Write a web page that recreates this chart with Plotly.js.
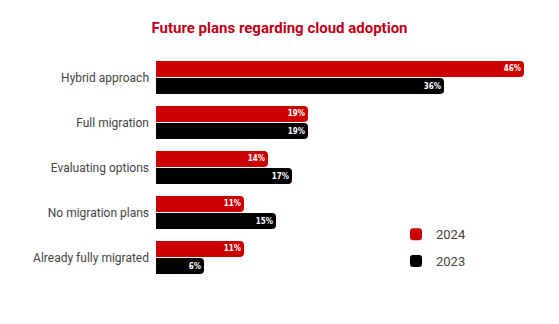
<!DOCTYPE html>
<html>
<head>
<meta charset="utf-8">
<script src="https://cdn.plot.ly/plotly-3.0.1.min.js"></script>
<style>html,body{margin:0;padding:0;background:#fff;}#chart{width:559px;height:324px;}</style>
</head>
<body>
<div id="chart"></div>
<script>
const categories = ["Hybrid approach", "Full migration", "Evaluating options", "No migration plans", "Already fully migrated"];
const values2024 = [46, 19, 14, 11, 11];
const values2023 = [36, 19, 17, 15, 6];
const seriesNames = ["2024", "2023"];
const colors = ["#cc0000", "#000000"];

const mk = (name, vals, color, grp) => ({
  type: "bar",
  orientation: "h",
  name: name,
  legendgroup: grp,
  y: categories,
  x: vals,
  text: vals.map(v => "<b>" + v + "%</b>"),
  textposition: "inside",
  insidetextanchor: "end",
  textfont: {color: "#ffffff", size: 8, family: "DejaVu Sans Condensed, Roboto, sans-serif"},
  marker: {color: color, cornerradius: 4},
  hoverinfo: "none",
  cliponaxis: false
});

const data = [
  mk(seriesNames[0], values2024, colors[0], "a"),
  mk(seriesNames[1], values2023, colors[1], "b")
];

const layout = {
  width: 559, height: 324,
  paper_bgcolor: "#ffffff", plot_bgcolor: "#ffffff",
  margin: {l: 156, r: 3, t: 55, b: 44},
  title: {
    text: "<b>Future plans regarding cloud adoption</b>",
    font: {family: "Roboto, Arial, sans-serif", size: 15, color: "#c00018"},
    x: 0.5, xanchor: "center", y: 0.915, yanchor: "middle"
  },
  barmode: "group",
  bargap: 0.24,
  bargroupgap: 0.06,
  xaxis: {range: [0, 50], visible: false, showgrid: false, zeroline: false},
  yaxis: {
    autorange: "reversed",
    showgrid: false, zeroline: false, showline: false,
    ticks: "", ticklabelstandoff: 6,
    tickfont: {family: "Roboto, Arial, sans-serif", size: 12, color: "#444444"}
  },
  showlegend: true,
  legend: {
    x: 0.60, y: 0.27, xanchor: "left", yanchor: "top",
    traceorder: "grouped", tracegroupgap: 7,
    font: {family: "Roboto, Arial, sans-serif", size: 13, color: "#444444"},
    bgcolor: "rgba(0,0,0,0)"
  }
};

Plotly.newPlot("chart", data, layout, {staticPlot: true, displayModeBar: false});
</script>
</body>
</html>
